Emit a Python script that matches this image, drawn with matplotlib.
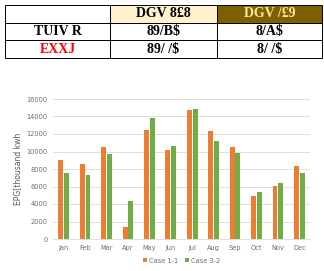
import matplotlib.pyplot as plt
import numpy as np

months = ['Jan', 'Feb', 'Mar', 'Apr', 'May', 'Jun', 'Jul', 'Aug', 'Sep', 'Oct', 'Nov', 'Dec']
case11 = [9050, 8550, 10530, 1400, 12430, 10190, 14710, 12310, 10530, 4940, 6080, 8360]
case32 = [7600, 7340, 9690, 4370, 13830, 10600, 14820, 11210, 9840, 5400, 6420, 7600]

col_labels = ['', 'DGV 8\u00a38', 'DGV /\u00a39']
row_labels = ['TUIV R', 'EXXJ']
cell_text = [['89/B$', '8/A$'], ['89/ /$', '8/ /$']]

fig = plt.figure(figsize=(3.24, 2.71), dpi=100)

# table on top
tax = fig.add_axes([5/324, 1 - 58/271, 317/324, 53/271])
tax.axis('off')
rows = [col_labels] + [[row_labels[i]] + cell_text[i] for i in range(2)]
tbl = tax.table(cellText=rows, bbox=[0, 0, 1, 1], cellLoc='center',
                colWidths=[105, 107, 105])
tbl.auto_set_font_size(False)
for (r, c), cell in tbl.get_celld().items():
    cell.set_linewidth(0.7)
    cell.get_text().set_fontsize(10)
    cell.get_text().set_family('Liberation Serif')
    cell.get_text().set_fontweight('bold')
tbl[0, 1].set_facecolor('#FFF2CC')
tbl[0, 2].set_facecolor('#7F6000')
tbl[0, 2].get_text().set_color('#FFE699')
tbl[2, 0].get_text().set_color('#FF0000')

# bar chart
ax = fig.add_axes([53/324, 1 - 239/271, 257/324, 140/271])
x = np.arange(len(months))
w = 0.23
ax.bar(x - 0.135, case11, w, color='#ED7D31', label='Case 1-1', zorder=3)
ax.bar(x + 0.135, case32, w, color='#70AD47', label='Case 3-2', zorder=3)
ax.set_xlim(-0.5, 11.5)
ax.set_ylim(0, 16000)
ax.set_yticks(range(0, 16001, 2000))
ax.grid(axis='y', color='#D9D9D9', linewidth=0.6, zorder=0)
for s in ['top', 'right', 'left']:
    ax.spines[s].set_visible(False)
ax.spines['bottom'].set_color('#D9D9D9')
ax.spines['bottom'].set_linewidth(0.6)
ax.set_xticks(x)
ax.set_xticklabels(months)
ax.tick_params(length=0, labelsize=4.8, colors='#6F6F6F', pad=4)
ax.set_ylabel('EPG[thousand kwh', fontsize=5.5, color='#595959', labelpad=3)
ax.legend(loc='upper center', bbox_to_anchor=(0.5, -0.09), ncol=2, frameon=False,
          fontsize=4.8, handlelength=0.6, handleheight=0.6, columnspacing=1.0,
          handletextpad=0.3, labelcolor='#6F6F6F')

fig.savefig('out.png', dpi=100)
